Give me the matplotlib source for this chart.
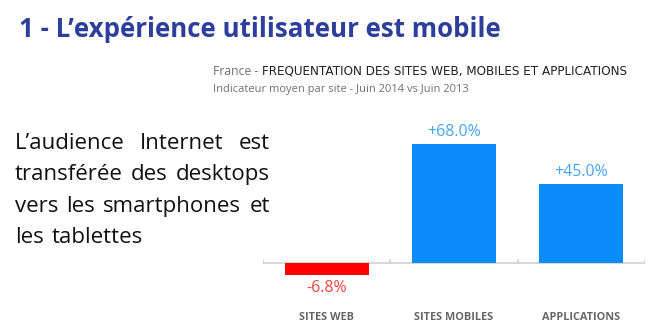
import matplotlib
matplotlib.use("Agg")
import matplotlib.pyplot as plt

# data
categories = ["SITES WEB", "SITES MOBILES", "APPLICATIONS"]
values = [-6.8, 68.0, 45.0]
value_labels = ["-6.8%", "+68.0%", "+45.0%"]

title = "1 - L\u2019exp\u00e9rience utilisateur est mobile"
sub_country = "France - "
sub_title = "FREQUENTATION DES SITES WEB, MOBILES ET APPLICATIONS"
sub_line2 = "Indicateur moyen par site - Juin 2014 vs Juin 2013"
body_lines = [
    "L\u2019audience Internet est",
    "transf\u00e9r\u00e9e des desktops",
    "vers les smartphones et",
    "les tablettes",
]

W, H = 660, 333
fig = plt.figure(figsize=(W / 100, H / 100), dpi=100)
fig.patch.set_facecolor("white")
renderer = fig.canvas.get_renderer()


def px(x, y):
    return x / W, 1 - y / H


def width_of(t):
    return t.get_window_extent(renderer).width


# title
fig.text(*px(19, 37), title, fontsize=18.6, fontweight="bold", color="#2E3F9B",
         family=["Open Sans", "DejaVu Sans"], va="baseline")

# subtitle
t1 = fig.text(*px(213, 75), sub_country, fontsize=8.8, color="#707070",
              family=["Open Sans", "DejaVu Sans"], va="baseline")
x2 = 213 + width_of(t1)
fig.text(*px(x2, 75), sub_title, fontsize=8.65, color="#222222",
         family=["DejaVu Sans"], va="baseline")
fig.text(*px(213, 92), sub_line2, fontsize=8, color="#707070",
         family=["Open Sans", "DejaVu Sans"], va="baseline")

# justified paragraph on the left
left, right = 15, 270
base_y = 149
line_gap = 31.4
fs_body = 16
for i, line in enumerate(body_lines):
    words = line.split()
    y = base_y + i * line_gap
    texts = [fig.text(0, 0, w, fontsize=fs_body, color="#111111",
                      family=["Open Sans", "DejaVu Sans"], va="baseline") for w in words]
    widths = [width_of(t) for t in texts]
    if i < len(body_lines) - 1 and len(words) > 1:
        gap = (right - left - sum(widths)) / (len(words) - 1)
    else:
        gap = width_of(fig.text(0, 0, " ", fontsize=fs_body, family=["Open Sans"], alpha=0)) + 2
    x = left
    for t, w in zip(texts, widths):
        t.set_position(px(x, y))
        x += w + gap

# chart
ax_l, ax_r = 263, 645
ax_t, ax_b = 120, 300
ax = fig.add_axes([ax_l / W, 1 - ax_b / H, (ax_r - ax_l) / W, (ax_b - ax_t) / H])
zero_y = 263
scale = 1.75
ax.set_ylim(-(ax_b - zero_y) / scale, (zero_y - ax_t) / scale)
ax.set_xlim(-0.5, len(categories) - 0.5)

xs = list(range(len(categories)))
bar_colors = ["#FF0000" if v < 0 else "#0A8CFB" for v in values]
ax.bar(xs, values, width=0.66, color=bar_colors, zorder=2)

ax.axhline(0, color="#D4D4D4", lw=1.3, zorder=1)
for b in [-0.5, 0.5, 1.5, 2.5]:
    ax.plot([b, b], [0, 2.0], color="#D4D4D4", lw=1.2, zorder=1)

for x, v, lab in zip(xs, values, value_labels):
    if v >= 0:
        ax.annotate(lab, (x, v), xytext=(0, 3), textcoords="offset points",
                    ha="center", va="bottom", fontsize=11.5, color="#4AA5F8",
                    family=["Open Sans", "DejaVu Sans"])
    else:
        ax.annotate(lab, (x, v), xytext=(0, -4), textcoords="offset points",
                    ha="center", va="top", fontsize=11.5, color="#FF4545",
                    family=["Open Sans", "DejaVu Sans"])

for x, c in zip(xs, categories):
    fig.text(*px(ax_l + (x + 0.5) * (ax_r - ax_l) / len(categories), 317), c,
             fontsize=7.8, color="#666666", ha="center", va="center",
             family=["Open Sans", "DejaVu Sans"], fontweight="bold")

ax.axis("off")

fig.savefig("out.png", dpi=100, facecolor="white")
